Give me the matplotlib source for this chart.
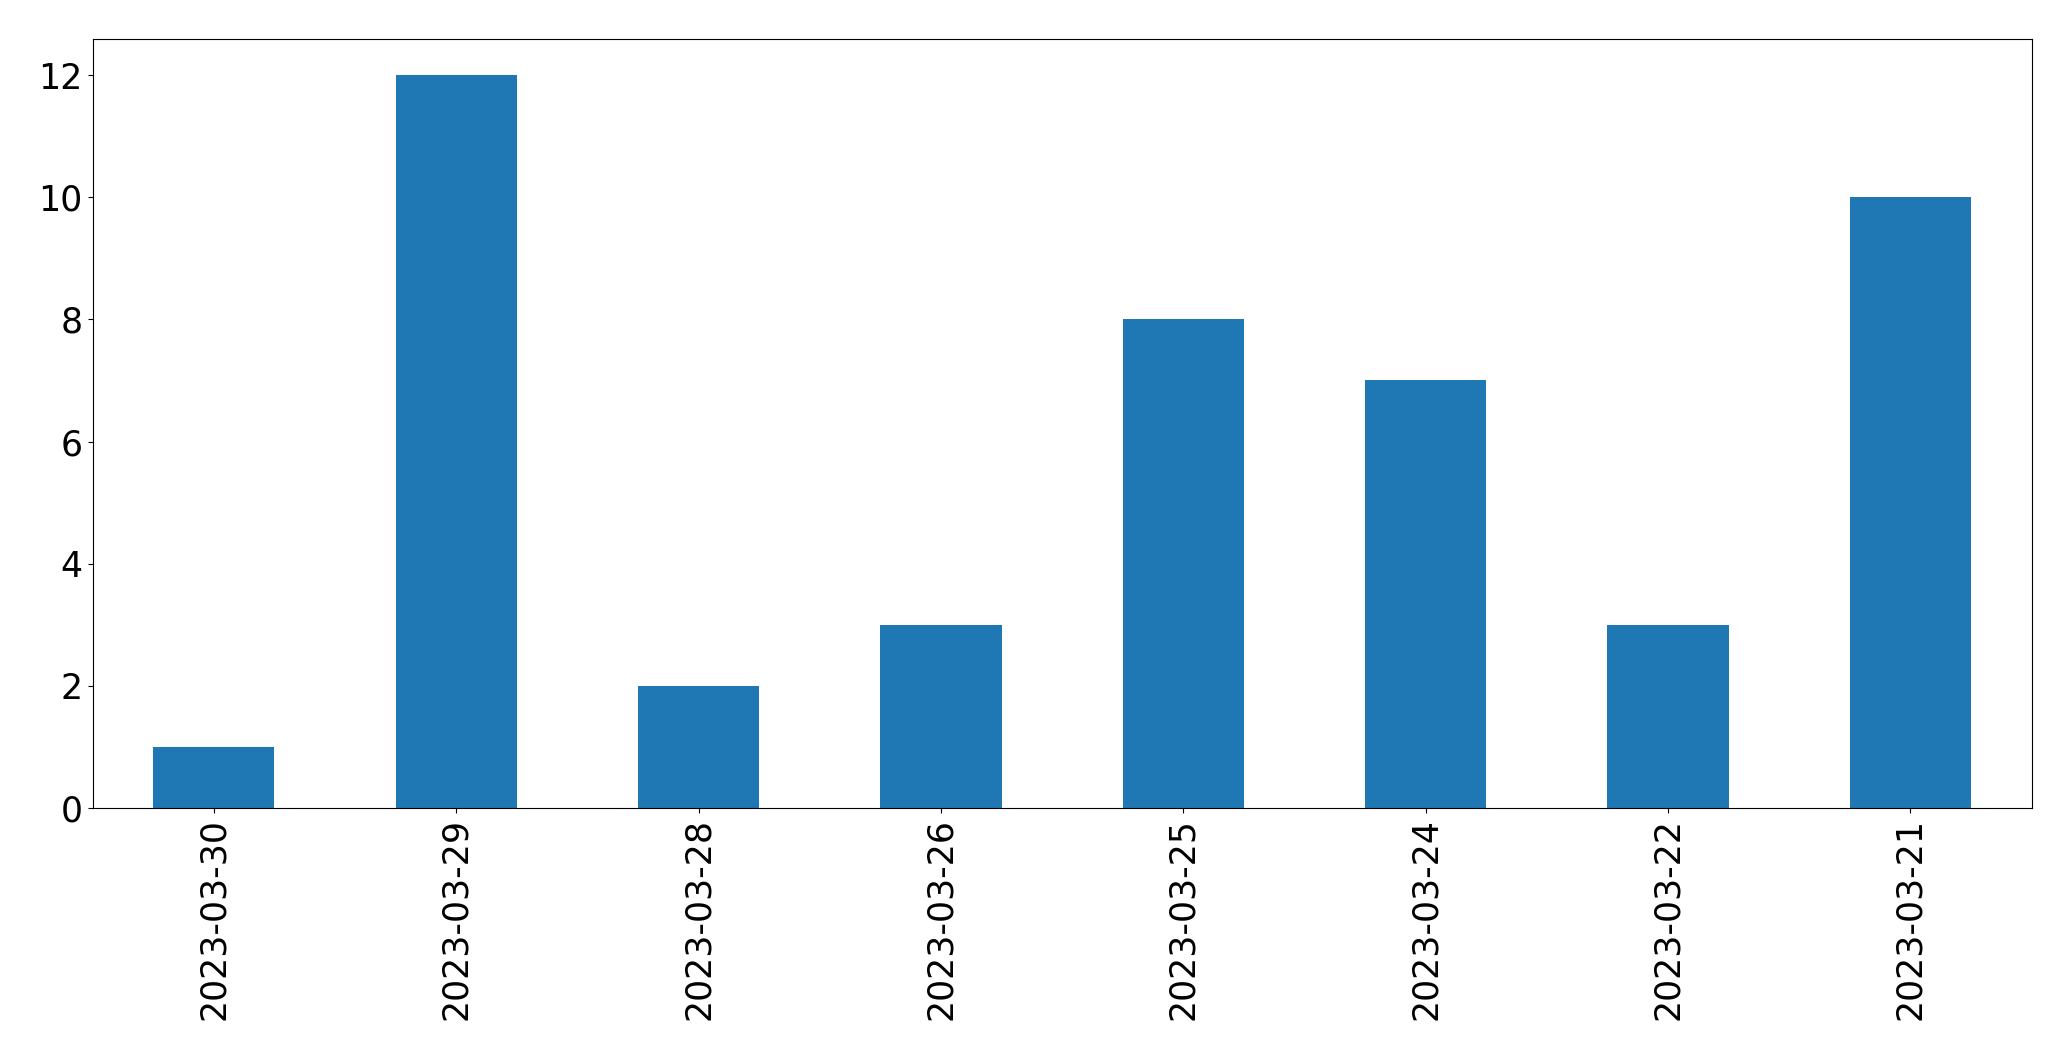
import matplotlib
matplotlib.use("Agg")
import matplotlib.pyplot as plt

dates = ["2023-03-30", "2023-03-29", "2023-03-28", "2023-03-26",
         "2023-03-25", "2023-03-24", "2023-03-22", "2023-03-21"]
counts = [1, 12, 2, 3, 8, 7, 3, 10]

fig = plt.figure(figsize=(20.71, 10.61), dpi=100)
ax = fig.add_axes([0.0447, 0.2385, 0.9363, 0.7252])
x = list(range(len(dates)))
ax.bar(x, counts, width=0.5, color="#1f77b4")
ax.set_xlim(-0.5, len(dates) - 0.5)
ax.set_ylim(0, 12.6)
ax.set_xticks(x)
ax.set_xticklabels(dates, rotation=90)
ax.tick_params(labelsize=25)
fig.savefig("out.png", dpi=100)
